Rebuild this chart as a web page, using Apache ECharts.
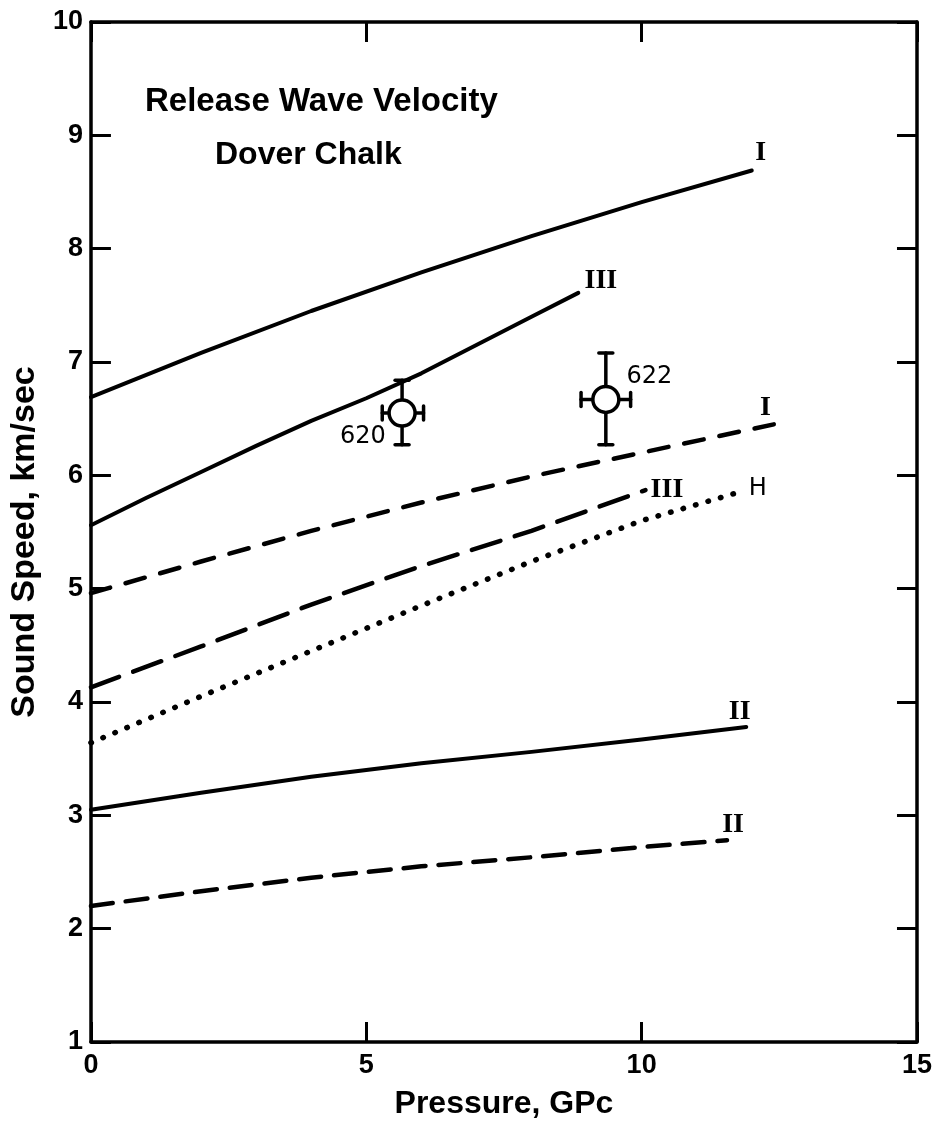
<!DOCTYPE html>
<html><head><meta charset="utf-8">
<script src="https://cdn.jsdelivr.net/npm/echarts@6/dist/echarts.min.js"></script>
<style>html,body{margin:0;padding:0;background:#fff}#c{width:935px;height:1126px}</style>
</head><body><div id="c"></div>
<script>
// Curves: [pressure GPa, sound speed km/s]
const solidI   = [[0,6.69],[2,7.08],[4,7.45],[6,7.79],[8,8.11],[10,8.41],[12,8.69]];
const solidIII = [[0,5.56],[1,5.8],[2,6.03],[3,6.26],[4,6.48],[5,6.68],[6,6.9],[7,7.15],[8,7.4],[8.85,7.61]];
const dashedI  = [[0,4.96],[2,5.24],[4,5.51],[6,5.76],[8,5.99],[10,6.2],[12.4,6.45]];
const dashedIII= [[0,4.13],[2,4.49],[4,4.86],[6,5.2],[8,5.51],[10.07,5.87]];
const dottedH  = [[0,3.64],[2,4.05],[4,4.45],[6,4.85],[8,5.24],[10,5.6],[11.76,5.85]];
const solidII  = [[0,3.05],[2,3.2],[4,3.34],[6,3.46],[8,3.56],[10,3.67],[11.9,3.78]];
const dashedII = [[0,2.2],[2,2.33],[4,2.45],[6,2.55],[8,2.63],[10,2.72],[11.55,2.78]];

// Measured shots with error bars
const shotNames = ['620','622'];
const shotX     = [5.65, 9.35];
const shotY     = [6.55, 6.67];
const shotXLow  = [5.29, 8.9];
const shotXHigh = [6.04, 9.8];
const shotYLow  = [6.27, 6.27];
const shotYHigh = [6.84, 7.08];
const shotLabelX = [4.94, 10.14];
const shotLabelY = [6.34, 6.87];

// Curve labels
const curveLabelText = ['I','III','I','III','II','II'];
const curveLabelX    = [12.16, 9.26, 12.25, 10.46, 11.78, 11.66];
const curveLabelY    = [8.85, 7.72, 6.6, 5.87, 3.91, 2.92];
const hLabelText = ['H'];
const hLabelX = [12.11];
const hLabelY = [5.88];

const xTicks = {min:0, max:15, interval:5};
const yTicks = {min:1, max:10, interval:1};

const titleLine1 = 'Release Wave Velocity';
const titleLine2 = 'Dover Chalk';
const xName = 'Pressure, GPc';
const yName = 'Sound Speed, km/sec';

const SANS = 'Liberation Sans';
const axisLineStyle = {color:'#000', width:3.5};
const tickStyle = {show:true, inside:true, length:20, lineStyle:{color:'#000', width:3}};

function lineSeries(data, type, width, cap){
  return {type:'line', data:data, showSymbol:false, smooth:false, silent:true,
    lineStyle:{color:'#000', width:width, type:type, cap:cap||'round', join:'round'}, z:3};
}
function labelSeries(data, font, weight, size){
  return {type:'scatter', symbolSize:0, silent:true, z:6, data:data,
    itemStyle:{opacity:1, color:'#000'},
    label:{show:true, position:'inside', formatter:p=>p.value[2], color:'#000',
      textBorderWidth:0, fontFamily:font, fontWeight:weight, fontSize:size}};
}

const shotData = shotX.map((x,i)=>[x, shotY[i], shotXLow[i], shotXHigh[i], shotYLow[i], shotYHigh[i]]);

const option = {
  backgroundColor:'#fff',
  animation:false,
  title:[
    {text:titleLine1, left:140, top:80, textStyle:{fontFamily:SANS, fontWeight:'bold', fontSize:33, color:'#000'}},
    {text:titleLine2, left:210, top:134, textStyle:{fontFamily:SANS, fontWeight:'bold', fontSize:32, color:'#000'}}
  ],
  grid:{left:88, right:14, top:22, bottom:84, containLabel:false},
  xAxis:[
    {type:'value', min:xTicks.min, max:xTicks.max, interval:xTicks.interval, position:'bottom',
     axisLine:{show:true, onZero:false, lineStyle:axisLineStyle}, axisTick:tickStyle, splitLine:{show:false},
     axisLabel:{color:'#000', fontFamily:SANS, fontWeight:'bold', fontSize:27, margin:10},
     name:xName, nameLocation:'middle', nameGap:46,
     nameTextStyle:{color:'#000', fontFamily:SANS, fontWeight:'bold', fontSize:32}},
    {type:'value', min:xTicks.min, max:xTicks.max, interval:xTicks.interval, position:'top',
     axisLine:{show:true, onZero:false, lineStyle:axisLineStyle}, axisTick:tickStyle, splitLine:{show:false},
     axisLabel:{show:false}}
  ],
  yAxis:[
    {type:'value', min:yTicks.min, max:yTicks.max, interval:yTicks.interval, position:'left',
     axisLine:{show:true, onZero:false, lineStyle:axisLineStyle}, axisTick:tickStyle, splitLine:{show:false},
     axisLabel:{color:'#000', fontFamily:SANS, fontWeight:'bold', fontSize:27, margin:8},
     name:yName, nameLocation:'middle', nameGap:40,
     nameTextStyle:{color:'#000', fontFamily:SANS, fontWeight:'bold', fontSize:34, padding:[0,0,0,-20]}},
    {type:'value', min:yTicks.min, max:yTicks.max, interval:yTicks.interval, position:'right',
     axisLine:{show:true, onZero:false, lineStyle:axisLineStyle}, axisTick:tickStyle, splitLine:{show:false},
     axisLabel:{show:false}}
  ],
  series:[
    lineSeries(solidI, 'solid', 4),
    lineSeries(solidIII, 'solid', 4),
    lineSeries(dashedI, [20,16], 4.5),
    lineSeries(dashedIII, [30,15], 4.5),
    lineSeries(dottedH, [0.5,12.5], 5.5),
    lineSeries(solidII, 'solid', 4),
    lineSeries(dashedII, [22,13], 4.5),
    {type:'custom', data:shotData, silent:true, z:5,
     renderItem:function(params, api){
       const x=api.value(0), y=api.value(1), xl=api.value(2), xh=api.value(3), yl=api.value(4), yh=api.value(5);
       const c=api.coord([x,y]), t=api.coord([x,yh]), b=api.coord([x,yl]), l=api.coord([xl,y]), r=api.coord([xh,y]);
       const st={stroke:'#000', lineWidth:3.5, lineCap:'round'};
       const cap=7;
       return {type:'group', children:[
         {type:'line', shape:{x1:t[0],y1:t[1],x2:b[0],y2:b[1]}, style:st},
         {type:'line', shape:{x1:l[0],y1:l[1],x2:r[0],y2:r[1]}, style:st},
         {type:'line', shape:{x1:t[0]-cap,y1:t[1],x2:t[0]+cap,y2:t[1]}, style:st},
         {type:'line', shape:{x1:b[0]-cap,y1:b[1],x2:b[0]+cap,y2:b[1]}, style:st},
         {type:'line', shape:{x1:l[0],y1:l[1]-cap,x2:l[0],y2:l[1]+cap}, style:st},
         {type:'line', shape:{x1:r[0],y1:r[1]-cap,x2:r[0],y2:r[1]+cap}, style:st},
         {type:'circle', shape:{cx:c[0],cy:c[1],r:13}, style:{fill:'#fff',stroke:'#000',lineWidth:3.5}}
       ]};
     }},
    labelSeries(shotNames.map((n,i)=>[shotLabelX[i], shotLabelY[i], n]), 'DejaVu Sans', 'normal', 24),
    labelSeries(curveLabelText.map((n,i)=>[curveLabelX[i], curveLabelY[i], n]), 'Liberation Serif', 'bold', 28),
    labelSeries(hLabelText.map((n,i)=>[hLabelX[i], hLabelY[i], n]), 'DejaVu Sans', 'normal', 24)
  ]
};
const chart = echarts.init(document.getElementById('c'), null, {renderer:'canvas'});
chart.setOption(option);
</script>
</body></html>
